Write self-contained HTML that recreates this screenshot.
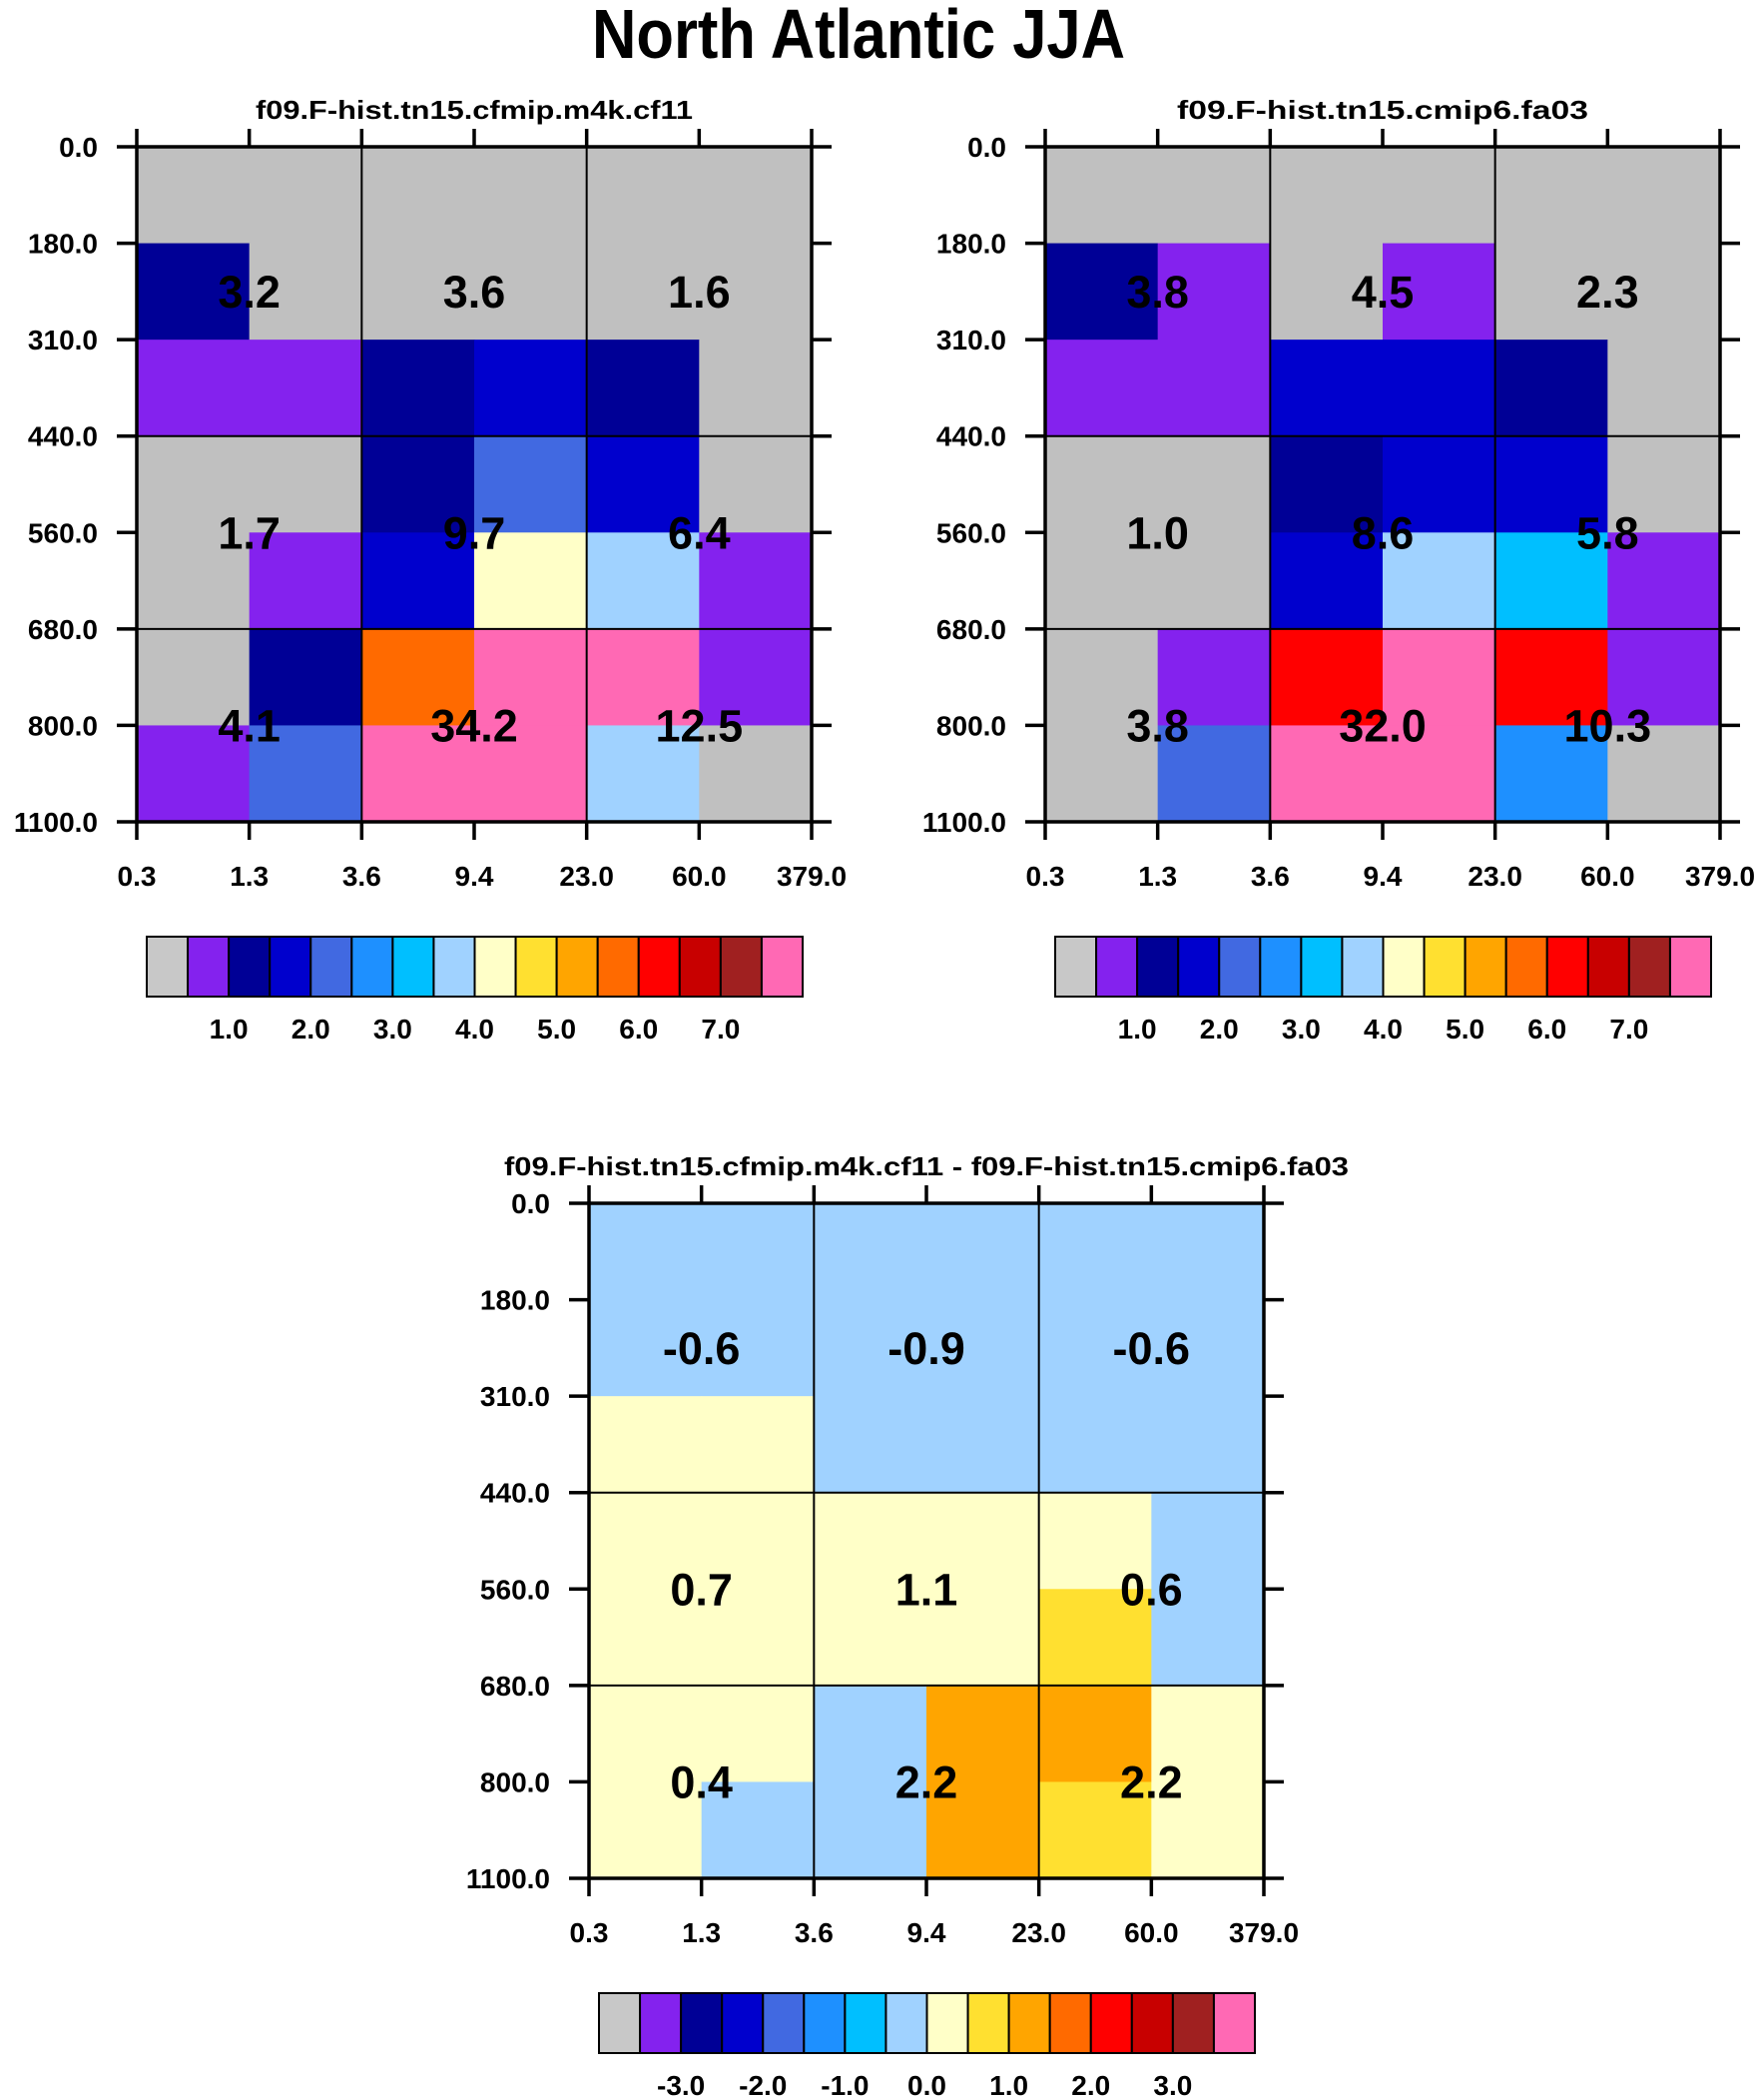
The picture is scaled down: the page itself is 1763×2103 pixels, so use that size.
<!DOCTYPE html>
<html><head><meta charset="utf-8">
<style>
html,body{margin:0;padding:0;background:#fff;}
svg{display:block;font-family:"Liberation Sans",sans-serif;font-weight:bold;}
</style></head>
<body>
<svg id="fig" width="1763" height="2103" viewBox="0 0 1763 2103" xmlns="http://www.w3.org/2000/svg">
<text x="860" y="58" font-size="70" text-anchor="middle" textLength="534" lengthAdjust="spacingAndGlyphs">North Atlantic JJA</text>
</svg>
<script>
// ---- data ----
const xTickLabels = ["0.3","1.3","3.6","9.4","23.0","60.0","379.0"];
const yTickLabels = ["0.0","180.0","310.0","440.0","560.0","680.0","800.0","1100.0"];
const palette = ["#c0c0c0","#8422ee","#000096","#0000cd","#4169e1","#1e90ff","#00bfff","#a0d2ff","#ffffc8","#ffe030","#ffa500","#ff6a00","#ff0000","#c80000","#a02020","#ff69b4"];
const cbLabelsAbs = ["1.0","2.0","3.0","4.0","5.0","6.0","7.0"];
const cbLabelsDiff = ["-3.0","-2.0","-1.0","0.0","1.0","2.0","3.0"];
// cell colour indices (rows top->bottom, cols left->right)
const cells1 = [
 [0,0,0,0,0,0],
 [2,0,0,0,0,0],
 [1,1,2,3,2,0],
 [0,0,2,4,3,0],
 [0,1,3,8,7,1],
 [0,2,11,15,15,1],
 [1,4,15,15,7,0]];
const cells2 = [
 [0,0,0,0,0,0],
 [2,1,0,1,0,0],
 [1,1,3,3,2,0],
 [0,0,2,3,3,0],
 [0,0,3,7,6,1],
 [0,1,12,15,12,1],
 [0,4,15,15,5,0]];
const cells3 = [
 [7,7,7,7,7,7],
 [7,7,7,7,7,7],
 [8,8,7,7,7,7],
 [8,8,8,8,8,7],
 [8,8,8,8,9,7],
 [8,8,7,10,10,8],
 [8,7,7,10,9,8]];
const values1 = ["3.2","3.6","1.6","1.7","9.7","6.4","4.1","34.2","12.5"];
const values2 = ["3.8","4.5","2.3","1.0","8.6","5.8","3.8","32.0","10.3"];
const values3 = ["-0.6","-0.9","-0.6","0.7","1.1","0.6","0.4","2.2","2.2"];

const NS = "http://www.w3.org/2000/svg";
const svg = document.getElementById("fig");
function el(tag, attrs, parent){
  const e = document.createElementNS(NS, tag);
  for (const k in attrs) e.setAttribute(k, attrs[k]);
  (parent||svg).appendChild(e);
  return e;
}

function panel(px, py, cells, values, subtitle, subW, cbLabels, cbY, key){
  const W = 676, H = 676;
  const nC = xTickLabels.length-1, nR = yTickLabels.length-1;
  const xs = i => px + i*W/nC;
  const ys = j => py + j*H/nR;
  const g = el("g", {});
  
  
  for (let r=0;r<nR;r++) for (let c=0;c<nC;c++){
    const rc = el("rect",{x:xs(c),y:ys(r),width:xs(c+1)-xs(c)+0.5,height:ys(r+1)-ys(r)+0.5,fill:palette[cells[r][c]]},g);
    
    
  }
  [2,4].forEach(i=>{ el("line",{x1:xs(i),x2:xs(i),y1:py,y2:py+H,stroke:"#000","stroke-width":2},g); });
  [3,5].forEach(j=>{ el("line",{x1:px,x2:px+W,y1:ys(j),y2:ys(j),stroke:"#000","stroke-width":2},g); });
  const fr = el("rect",{x:px,y:py,width:W,height:H,fill:"none",stroke:"#000","stroke-width":3.5},g);
  
  
  for (let i=0;i<=nC;i++){
    el("line",{x1:xs(i),x2:xs(i),y1:py-18,y2:py,stroke:"#000","stroke-width":3.5},g);
    el("line",{x1:xs(i),x2:xs(i),y1:py+H,y2:py+H+18,stroke:"#000","stroke-width":3.5},g);
    const t = el("text",{x:xs(i),y:py+H+64,"font-size":28,"text-anchor":"middle"},g);
    t.textContent = xTickLabels[i];
    
    
  }
  for (let j=0;j<=nR;j++){
    el("line",{x1:px-20,x2:px,y1:ys(j),y2:ys(j),stroke:"#000","stroke-width":3.5},g);
    el("line",{x1:px+W,x2:px+W+20,y1:ys(j),y2:ys(j),stroke:"#000","stroke-width":3.5},g);
    const t = el("text",{x:px-39,y:ys(j)+10,"font-size":28,"text-anchor":"end"},g);
    t.textContent = yTickLabels[j];
    
    
  }
  const vc = [1,3,5], vr = [1.5,4,6];
  for (let k=0;k<values.length;k++){
    const t = el("text",{x:xs(vc[k%3]),y:ys(vr[Math.floor(k/3)])+16,"font-size":45,"text-anchor":"middle"},g);
    t.textContent = values[k];
    
    
  }
  const st = el("text",{x:px+W/2,y:py-28,"font-size":26,"text-anchor":"middle",textLength:subW,lengthAdjust:"spacingAndGlyphs"},g);
  st.textContent = subtitle;
  
  
  const cx0 = px+10, cw = 657/palette.length, ch = 60;
  const cb = el("g",{},g);
  
  
  palette.forEach((col,i)=>{
    const b = el("rect",{x:cx0+i*cw,y:cbY,width:cw,height:ch,fill:i===0?"#c8c8c8":col,stroke:"#000","stroke-width":2},cb);
    
    
  });
  cbLabels.forEach((lab,i)=>{
    const t = el("text",{x:cx0+(2*i+2)*cw,y:cbY+ch+42,"font-size":28,"text-anchor":"middle"},cb);
    t.textContent = lab;
    
    
  });
}
panel(137,147,cells1,values1,"f09.F-hist.tn15.cfmip.m4k.cf11",438,cbLabelsAbs,938,"cf11");
panel(1047,147,cells2,values2,"f09.F-hist.tn15.cmip6.fa03",412,cbLabelsAbs,938,"fa03");
panel(590,1205,cells3,values3,"f09.F-hist.tn15.cfmip.m4k.cf11 - f09.F-hist.tn15.cmip6.fa03",846,cbLabelsDiff,1996,"diff");
</script>
</body></html>
